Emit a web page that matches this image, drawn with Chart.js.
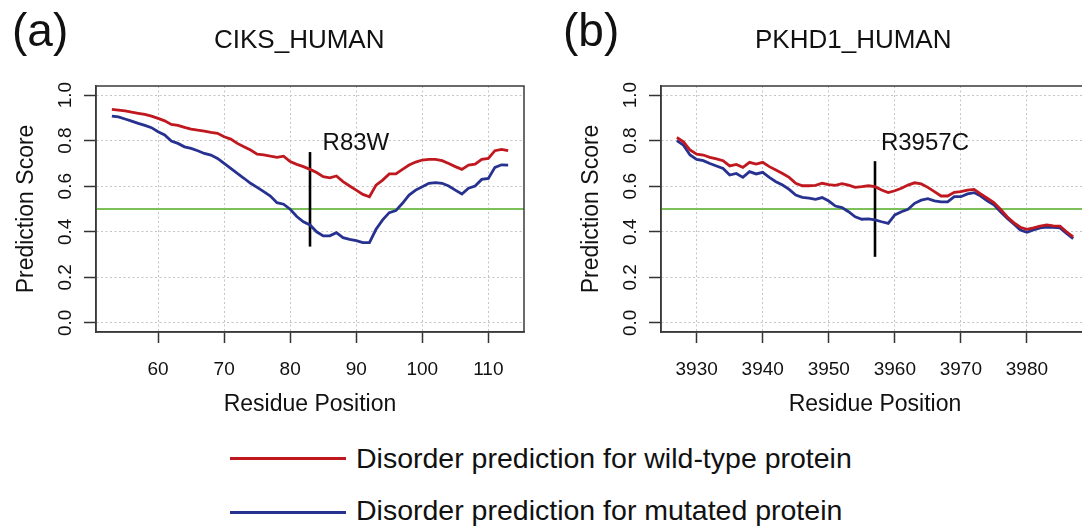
<!DOCTYPE html>
<html>
<head>
<meta charset="utf-8">
<script src="https://cdn.jsdelivr.net/npm/chart.js@4.4.1/dist/chart.umd.min.js"></script>
<style>
  html, body { margin: 0; padding: 0; background: #fff; overflow: hidden; width: 1082px; height: 527px; }
  body { position: relative; font-family: "Liberation Sans", Arial, Helvetica, sans-serif; color: #111; }
  canvas { position: absolute; top: 0; }
  .txt { position: absolute; white-space: nowrap; line-height: 1; }
  .panel { font-size: 46px; }
  .title { font-size: 26px; }
  .leg { font-size: 28.5px; }
  .swatch { position: absolute; left: 230px; width: 116px; height: 3px; }
</style>
</head>
<body>
<canvas id="chartA" width="540" height="430" style="left:0"></canvas>
<canvas id="chartB" width="565" height="430" style="left:540px"></canvas>

<div class="txt panel" style="left:12px; top:7px">(a)</div>
<div class="txt title" style="left:214px; top:26px">CIKS_HUMAN</div>
<div class="txt panel" style="left:563px; top:7px">(b)</div>
<div class="txt title" style="left:755px; top:26px">PKHD1_HUMAN</div>

<div class="swatch" style="top:457px; background:#c0181f"></div>
<div class="txt leg" style="left:356px; top:444px">Disorder prediction for wild-type protein</div>
<div class="swatch" style="top:511px; background:#27318f"></div>
<div class="txt leg" style="left:356px; top:496px">Disorder prediction for mutated protein</div>

<script>
// CIKS_HUMAN
const residuesA = [53, 54, 55, 56, 57, 58, 59, 60, 61, 62, 63, 64, 65, 66, 67, 68, 69, 70, 71, 72,
  73, 74, 75, 76, 77, 78, 79, 80, 81, 82, 83, 84, 85, 86, 87, 88, 89, 90, 91, 92,
  93, 94, 95, 96, 97, 98, 99, 100, 101, 102, 103, 104, 105, 106, 107, 108, 109, 110, 111, 112, 113];
const wildA = [0.937, 0.934, 0.931, 0.925, 0.920, 0.915, 0.908, 0.898, 0.887, 0.871, 0.867, 0.858, 0.851, 0.846, 0.842, 0.836, 0.832, 0.817, 0.807, 0.788,
  0.773, 0.759, 0.741, 0.738, 0.732, 0.727, 0.732, 0.708, 0.696, 0.686, 0.674, 0.660, 0.642, 0.637, 0.645, 0.620, 0.601, 0.583, 0.564, 0.554,
  0.605, 0.627, 0.654, 0.654, 0.674, 0.693, 0.706, 0.715, 0.718, 0.718, 0.712, 0.700, 0.686, 0.674, 0.693, 0.697, 0.718, 0.722, 0.756, 0.762, 0.756];
const mutantA = [0.908, 0.904, 0.895, 0.886, 0.876, 0.867, 0.857, 0.839, 0.825, 0.798, 0.788, 0.773, 0.766, 0.756, 0.744, 0.737, 0.722, 0.700, 0.678, 0.656,
  0.635, 0.613, 0.595, 0.576, 0.557, 0.528, 0.521, 0.499, 0.467, 0.444, 0.430, 0.400, 0.382, 0.382, 0.396, 0.374, 0.367, 0.361, 0.352, 0.352,
  0.411, 0.452, 0.484, 0.493, 0.525, 0.561, 0.583, 0.598, 0.613, 0.616, 0.613, 0.601, 0.583, 0.566, 0.591, 0.601, 0.630, 0.634, 0.683, 0.694, 0.693];
const markerA = { label: "R83W", pos: 83, low: 0.335, high: 0.75, labelX: 84.9, labelY: 0.79 };

// PKHD1_HUMAN
const residuesB = [3927, 3928, 3929, 3930, 3931, 3932, 3933, 3934, 3935, 3936, 3937, 3938, 3939, 3940, 3941, 3942, 3943, 3944, 3945, 3946,
  3947, 3948, 3949, 3950, 3951, 3952, 3953, 3954, 3955, 3956, 3957, 3958, 3959, 3960, 3961, 3962, 3963, 3964, 3965, 3966,
  3967, 3968, 3969, 3970, 3971, 3972, 3973, 3974, 3975, 3976, 3977, 3978, 3979, 3980, 3981, 3982, 3983, 3984, 3985, 3986, 3987];
const wildB = [0.814, 0.795, 0.759, 0.741, 0.737, 0.727, 0.720, 0.712, 0.689, 0.696, 0.683, 0.705, 0.697, 0.705, 0.686, 0.671, 0.656, 0.639, 0.613, 0.602,
  0.602, 0.604, 0.613, 0.607, 0.604, 0.611, 0.605, 0.595, 0.598, 0.602, 0.598, 0.583, 0.572, 0.580, 0.591, 0.605, 0.615, 0.610, 0.595, 0.576,
  0.557, 0.557, 0.573, 0.576, 0.583, 0.586, 0.566, 0.547, 0.528, 0.499, 0.466, 0.440, 0.420, 0.411, 0.417, 0.425, 0.430, 0.426, 0.425, 0.400, 0.378];
const mutantB = [0.800, 0.780, 0.737, 0.718, 0.712, 0.700, 0.689, 0.678, 0.649, 0.656, 0.639, 0.664, 0.654, 0.661, 0.639, 0.620, 0.605, 0.586, 0.561, 0.551,
  0.548, 0.542, 0.550, 0.535, 0.513, 0.506, 0.488, 0.466, 0.455, 0.457, 0.452, 0.444, 0.437, 0.474, 0.488, 0.499, 0.525, 0.539, 0.545, 0.536,
  0.531, 0.531, 0.554, 0.554, 0.566, 0.572, 0.557, 0.536, 0.518, 0.488, 0.459, 0.434, 0.408, 0.398, 0.408, 0.417, 0.420, 0.419, 0.417, 0.393, 0.370];
const markerB = { label: "R3957C", pos: 3957, low: 0.29, high: 0.71, labelX: 3957.9, labelY: 0.79 };

const yTicks = [0, 0.2, 0.4, 0.6, 0.8, 1.0];
const cutoff = 0.5;

const FONT = '"Liberation Sans", Arial, Helvetica, sans-serif';
const RED = "#c0181f";
const BLUE = "#27318f";
const GREEN = "#7cc05a";

// R-style 4% padding around the data range
function padRange(lo, hi) {
	const d = (hi - lo) * 0.04;
	return [lo - d, hi + d];
}

// green cutoff line, box and mutation label
const panelDecor = {
	id: "panelDecor",
	beforeDatasetsDraw(chart) {
		const { ctx, chartArea: a, scales } = chart;
		const yy = scales.y.getPixelForValue(cutoff);
		ctx.save();
		ctx.strokeStyle = GREEN;
		ctx.lineWidth = 2;
		ctx.beginPath();
		ctx.moveTo(a.left, yy);
		ctx.lineTo(a.right, yy);
		ctx.stroke();
		ctx.restore();
	},
	afterDatasetsDraw(chart, args, opts) {
		const { ctx, chartArea: a, scales } = chart;
		ctx.save();
		ctx.strokeStyle = "#3a3a3a";
		ctx.lineWidth = 1.5;
		ctx.strokeRect(a.left, a.top, a.right - a.left, a.bottom - a.top);
		ctx.fillStyle = "#111";
		ctx.font = "24px " + FONT;
		ctx.textAlign = "left";
		ctx.textBaseline = "middle";
		ctx.fillText(opts.label, scales.x.getPixelForValue(opts.labelX), scales.y.getPixelForValue(opts.labelY));
		ctx.restore();
	},
};

function makePanel(id, residues, wild, mutant, marker, padLeft) {
	const [xMin, xMax] = padRange(residues[0], residues[residues.length - 1]);
	const [yMin, yMax] = padRange(yTicks[0], yTicks[yTicks.length - 1]);
	const toPoints = (vals) => residues.map((r, i) => ({ x: r, y: vals[i] }));

	return new Chart(document.getElementById(id).getContext("2d"), {
		type: "line",
		data: {
			datasets: [
				{ data: toPoints(wild), borderColor: RED, borderWidth: 2.8, pointRadius: 0, tension: 0 },
				{ data: toPoints(mutant), borderColor: BLUE, borderWidth: 2.8, pointRadius: 0, tension: 0 },
				{
					data: [{ x: marker.pos, y: marker.low }, { x: marker.pos, y: marker.high }],
					borderColor: "#000",
					borderWidth: 2.6,
					pointRadius: 0,
				},
			],
		},
		options: {
			responsive: false,
			animation: false,
			devicePixelRatio: 1,
			layout: { padding: { top: 86, right: 16, bottom: 0, left: padLeft } },
			plugins: {
				legend: { display: false },
				tooltip: { enabled: false },
				panelDecor: { label: marker.label, labelX: marker.labelX, labelY: marker.labelY },
			},
			scales: {
				x: {
					type: "linear",
					min: xMin,
					max: xMax,
					afterFit: (s) => { s.height = 98; },
					ticks: {
						stepSize: 10,
						includeBounds: false,
						maxRotation: 0,
						autoSkip: false,
						padding: 15,
						color: "#111",
						font: { family: FONT, size: 19 },
						callback: (v) => String(Math.round(v)),
					},
					grid: { color: "#c4c4c4", lineWidth: 1, tickLength: 11, tickColor: "#333", tickWidth: 1.5 },
					border: { display: true, color: "#3a3a3a", width: 1.5, dash: [2, 2.5] },
					title: {
						display: true,
						text: "Residue Position",
						color: "#111",
						font: { family: FONT, size: 23 },
						padding: { top: 0, bottom: 12 },
					},
				},
				y: {
					type: "linear",
					min: yMin,
					max: yMax,
					afterFit: (s) => { s.width = 96; },
					afterBuildTicks: (s) => { s.ticks = yTicks.map((v) => ({ value: v })); },
					ticks: {
						minRotation: 90,
						maxRotation: 90,
						crossAlign: "center",
						padding: 5,
						color: "#111",
						font: { family: FONT, size: 19 },
						callback: (v) => Number(v).toFixed(1),
					},
					grid: { color: "#c4c4c4", lineWidth: 1, tickLength: 12, tickColor: "#333", tickWidth: 1.5 },
					border: { display: true, color: "#3a3a3a", width: 1.5, dash: [2, 2.5] },
					title: {
						display: true,
						text: "Prediction Score",
						color: "#111",
						font: { family: FONT, size: 23 },
						padding: { top: 13, bottom: 0 },
					},
				},
			},
		},
		plugins: [panelDecor],
	});
}

makePanel("chartA", residuesA, wildA, mutantA, markerA, 0);
makePanel("chartB", residuesB, wildB, mutantB, markerB, 25);
</script>
</body>
</html>
